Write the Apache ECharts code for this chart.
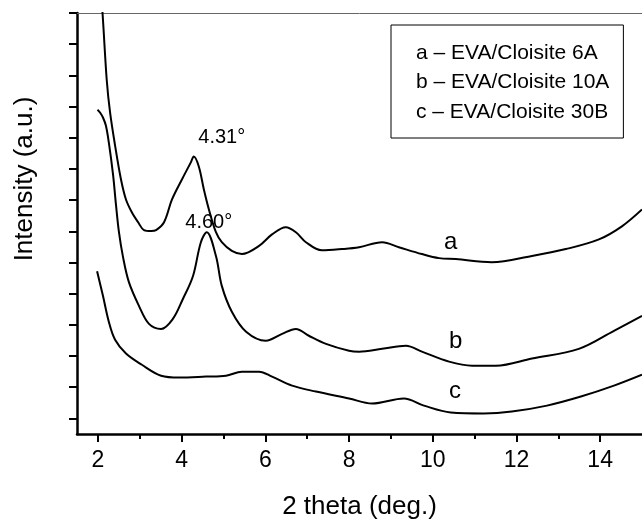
<!DOCTYPE html>
<html>
<head>
<meta charset="utf-8">
<script src="https://cdn.jsdelivr.net/npm/echarts@6/dist/echarts.min.js"></script>
<style>
html,body{margin:0;padding:0;background:#fff;}
#chart{width:642px;height:525px;}
</style>
</head>
<body>
<div id="chart"></div>
<script>
// ---- data ----
const seriesNames = ['a \u2013 EVA/Cloisite 6A', 'b \u2013 EVA/Cloisite 10A', 'c \u2013 EVA/Cloisite 30B'];
const curveTags = ['a', 'b', 'c'];

const thetaA = [2.0, 2.05, 2.11, 2.21, 2.29, 2.41, 2.55, 2.67, 2.81, 2.96, 3.10, 3.27, 3.39, 3.58, 3.77, 4.01, 4.22, 4.29, 4.41, 4.53, 4.65, 4.82, 4.96, 5.20, 5.44, 5.85, 6.16, 6.49, 6.73, 6.97, 7.35, 7.83, 8.24, 8.79, 9.19, 9.74, 10.15, 10.55, 11.41, 12.37, 13.18, 13.97, 14.52, 15.0];
const intensityA = [15.5, 14.5, 13.5, 11.36, 10.31, 9.25, 8.17, 7.52, 7.11, 6.79, 6.54, 6.51, 6.54, 6.79, 7.52, 8.17, 8.71, 8.90, 8.58, 7.85, 7.21, 6.47, 6.15, 5.87, 5.77, 6.03, 6.40, 6.63, 6.47, 6.15, 5.89, 5.93, 5.99, 6.15, 5.99, 5.77, 5.64, 5.61, 5.51, 5.71, 5.93, 6.24, 6.66, 7.20];

const thetaB = [1.99, 2.05, 2.12, 2.19, 2.26, 2.36, 2.43, 2.50, 2.60, 2.74, 2.98, 3.22, 3.51, 3.79, 4.03, 4.27, 4.46, 4.60, 4.82, 4.96, 5.20, 5.54, 6.01, 6.40, 6.73, 7.04, 7.45, 8.00, 8.24, 8.79, 9.36, 9.74, 10.39, 10.94, 11.51, 12.37, 13.49, 14.33, 15.0];
const intensityB = [10.40, 10.31, 10.15, 9.89, 9.35, 8.33, 7.37, 6.50, 5.67, 4.87, 4.11, 3.53, 3.37, 3.69, 4.33, 5.06, 6.15, 6.47, 5.71, 4.75, 3.92, 3.28, 2.99, 3.21, 3.37, 3.15, 2.89, 2.67, 2.64, 2.73, 2.83, 2.64, 2.32, 2.19, 2.19, 2.42, 2.73, 3.31, 3.79];

const thetaC = [1.98, 2.12, 2.26, 2.41, 2.67, 3.05, 3.51, 3.94, 4.58, 5.06, 5.44, 5.85, 6.16, 6.64, 7.21, 8.00, 8.55, 9.31, 9.79, 10.43, 11.22, 11.89, 12.73, 13.54, 14.33, 15.0];
const intensityC = [5.22, 4.43, 3.60, 3.02, 2.58, 2.22, 1.87, 1.81, 1.84, 1.87, 2.00, 2.00, 1.84, 1.55, 1.36, 1.14, 0.98, 1.14, 0.91, 0.69, 0.66, 0.72, 0.91, 1.20, 1.55, 1.90];

const xMajorTicks = [2, 4, 6, 8, 10, 12, 14];
const xMinorTicks = [3, 5, 7, 9, 11, 13];
const yTicks = [0.5, 1.5, 2.5, 3.5, 4.5, 5.5, 6.5, 7.5, 8.5, 9.5, 10.5, 11.5, 12.5, 13.5];

const peakTexts = ['4.31\u00b0', '4.60\u00b0'];
const peakTheta = [4.29, 4.60];
const peakIntensity = [8.90, 6.47];

const tagTheta = [10.43, 10.55, 10.53];
const tagIntensity = [6.15, 2.96, 1.36];

// ---- build ----
const FONT = "'Liberation Sans', Arial, Helvetica, sans-serif";
function zip(xs, ys) { return xs.map((x, i) => [x, ys[i]]); }
const allX = [thetaA, thetaB, thetaC];
const allY = [intensityA, intensityB, intensityC];

const chart = echarts.init(document.getElementById('chart'), null, {renderer: 'canvas'});

const series = seriesNames.map((name, i) => {
  const mp = [{
    coord: [tagTheta[i], tagIntensity[i]],
    label: {formatter: curveTags[i], fontSize: 24}
  }];
  if (i < peakTexts.length) {
    mp.push({
      coord: [peakTheta[i], peakIntensity[i]],
      label: {formatter: peakTexts[i], fontSize: 20, offset: i === 0 ? [28, -19] : [2, -10]}
    });
  }
  return {
    name: name,
    type: 'line',
    data: zip(allX[i], allY[i]),
    showSymbol: false,
    symbol: 'none',
    smooth: 0.35,
    clip: true,
    lineStyle: {color: '#000', width: 2},
    itemStyle: {color: '#000'},
    animation: false,
    markPoint: {
      symbol: 'circle',
      symbolSize: 0,
      animation: false,
      label: {show: true, position: 'inside', color: '#000', fontSize: 20, fontFamily: FONT},
      data: mp
    }
  };
});

chart.setOption({
  animation: false,
  backgroundColor: '#fff',
  grid: {left: 77, right: 0, top: 13, bottom: 90, containLabel: false},
  legend: {
    show: true,
    orient: 'vertical',
    left: 391,
    top: 25,
    icon: 'none',
    itemWidth: 0,
    itemHeight: 21,
    itemGap: 8.5,
    padding: [17.5, 14, 15.5, 20],
    borderColor: '#000',
    borderWidth: 1,
    selectedMode: false,
    textStyle: {color: '#000', fontSize: 21, fontFamily: FONT, lineHeight: 21},
    data: seriesNames
  },
  xAxis: [{
    type: 'value',
    min: 1.5, max: 15,
    position: 'bottom',
    name: '2 theta (deg.)',
    nameLocation: 'middle',
    nameGap: 60,
    nameTextStyle: {color: '#000', fontSize: 26, fontFamily: FONT},
    axisLine: {show: true, onZero: false, lineStyle: {color: '#000', width: 2.5}},
    axisTick: {show: true, inside: false, length: 8, lineStyle: {color: '#000', width: 2}, customValues: xMajorTicks},
    axisLabel: {show: true, margin: 15, color: '#000', fontSize: 23, fontFamily: FONT, customValues: xMajorTicks},
    splitLine: {show: false}
  }, {
    type: 'value',
    min: 1.5, max: 15,
    position: 'bottom',
    axisLine: {show: false},
    axisTick: {show: true, length: 5, lineStyle: {color: '#000', width: 2}, customValues: xMinorTicks},
    axisLabel: {show: false},
    splitLine: {show: false}
  }, {
    type: 'value',
    min: 1.5, max: 15,
    position: 'top',
    axisLine: {show: true, onZero: false, lineStyle: {color: '#666', width: 1}},
    axisTick: {show: false},
    axisLabel: {show: false},
    splitLine: {show: false}
  }],
  yAxis: {
    type: 'value',
    min: 0, max: 13.5,
    axisLine: {show: true, onZero: false, lineStyle: {color: '#000', width: 2.5}},
    axisTick: {show: true, length: 8, lineStyle: {color: '#000', width: 2}, customValues: yTicks},
    axisLabel: {show: false},
    splitLine: {show: false}
  },
  graphic: [{
    type: 'text',
    x: 25, y: 179,
    rotation: Math.PI / 2,
    style: {
      text: 'Intensity (a.u.)',
      fill: '#000',
      fontSize: 26,
      fontFamily: FONT,
      align: 'center',
      verticalAlign: 'middle'
    }
  }],
  series: series
});
</script>
</body>
</html>
